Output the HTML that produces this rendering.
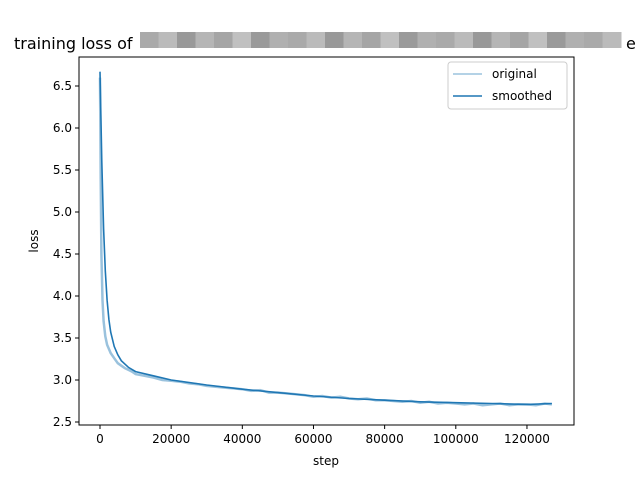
<!DOCTYPE html>
<html><head><meta charset="utf-8"><style>
body{margin:0;background:#fff;}
svg{display:block;font-family:"DejaVu Sans","Liberation Sans",sans-serif;}
</style></head><body>
<svg id="chart" width="637" height="477">
<g>
<text x="14" y="49" font-size="16" fill="#000">training loss of</text>
<g id="blur" fill="#999"></g>
<text x="626" y="49" font-size="16" fill="#000">e</text>
</g>
<g id="plot"></g>
</svg>
<script>
const smSteps=[0,500,1000,1500,2000,2500,3000,4000,5000,6000,8000,10000,15000,20000,30000,40000,50000,60000,70000,80000,90000,100000,110000,120000,127000];
const smVals=[6.67,5.6,4.8,4.3,3.95,3.72,3.57,3.4,3.3,3.23,3.15,3.1,3.05,3.0,2.94,2.89,2.85,2.81,2.78,2.76,2.74,2.73,2.72,2.71,2.72];
const orSteps=[0,200,400,700,1000,1500,2000,3000,4000,5000,6000,7000,8000,9000,10000,12500,15000,17500,20000,22500,25000,27500,30000,32500,35000,37500,40000,42500,45000,47500,50000,52500,55000,57500,60000,62500,65000,67500,70000,72500,75000,77500,80000,82500,85000,87500,90000,92500,95000,97500,100000,102500,105000,107500,110000,112500,115000,117500,120000,122500,125000,127000];
const orVals=[6.6,5.4,4.5,3.95,3.7,3.52,3.42,3.32,3.26,3.2,3.17,3.14,3.12,3.1,3.07,3.05,3.03,3.0,2.99,2.98,2.96,2.95,2.93,2.92,2.91,2.9,2.89,2.87,2.88,2.85,2.85,2.84,2.83,2.82,2.8,2.81,2.79,2.8,2.78,2.77,2.78,2.76,2.76,2.75,2.74,2.75,2.73,2.74,2.72,2.73,2.72,2.71,2.72,2.7,2.71,2.72,2.7,2.71,2.71,2.7,2.72,2.71];
const xTicks=[0,20000,40000,60000,80000,100000,120000];
const yTicks=[2.5,3.0,3.5,4.0,4.5,5.0,5.5,6.0,6.5];
const NS="http://www.w3.org/2000/svg";
const X=v=>100+v*0.003558, Y=v=>422-(v-2.5)*84;
const L=79,R=574,T=57,B=425;
const plot=document.getElementById('plot');
function mk(t,a,p){const e=document.createElementNS(NS,t);for(const k in a)e.setAttribute(k,a[k]);(p||plot).appendChild(e);return e;}
const blur=document.getElementById('blur');
const greys=['#aaa','#bbb','#999','#b5b5b5','#a5a5a5','#c0c0c0','#9a9a9a','#b0b0b0'];
for(let i=0;i<26;i++){const r=mk('rect',{x:140+i*18.5,y:32,width:19,height:16,fill:greys[i%8]},blur);}
let e=mk('rect',{x:L,y:T,width:R-L,height:B-T,fill:'#fff',stroke:'#000','stroke-width':1});

xTicks.forEach(v=>{const g=mk('g',{});
mk('line',{x1:X(v),x2:X(v),y1:B,y2:B+4,stroke:'#000'},g);const t=mk('text',{x:X(v),y:B+18,'font-size':12,'text-anchor':'middle'},g);t.textContent=v;});
yTicks.forEach(v=>{const g=mk('g',{});
mk('line',{x1:L-4,x2:L,y1:Y(v),y2:Y(v),stroke:'#000'},g);const t=mk('text',{x:L-7,y:Y(v)+4,'font-size':12,'text-anchor':'end'},g);t.textContent=v.toFixed(1);});
let t=mk('text',{x:326,y:465,'font-size':12,'text-anchor':'middle'});t.textContent='step';

t=mk('text',{x:38,y:241,'font-size':12,'text-anchor':'middle',transform:'rotate(-90 38 241)'});t.textContent='loss';

const pts=(s,v)=>s.map((x,i)=>X(x).toFixed(1)+','+Y(v[i]).toFixed(1)).join(' ');
let p=mk('polyline',{points:pts(orSteps,orVals),fill:'none',stroke:'#1f77b4','stroke-opacity':0.45,'stroke-width':2.5});

p=mk('polyline',{points:pts(smSteps,smVals),fill:'none',stroke:'#1f77b4','stroke-width':1.6});

const lg=mk('g',{});
mk('rect',{x:448,y:62,width:119,height:47,rx:3,fill:'#fff',stroke:'#ccc'},lg);
[['original',0.45,74],['smoothed',1,96]].forEach(([n,o,y])=>{const g=mk('g',{},lg);
mk('line',{x1:453,x2:482,y1:y,y2:y,stroke:'#1f77b4','stroke-opacity':o,'stroke-width':1.6},g);
const tt=mk('text',{x:492,y:y+4,'font-size':12},g);tt.textContent=n;});
</script>
</body></html>
